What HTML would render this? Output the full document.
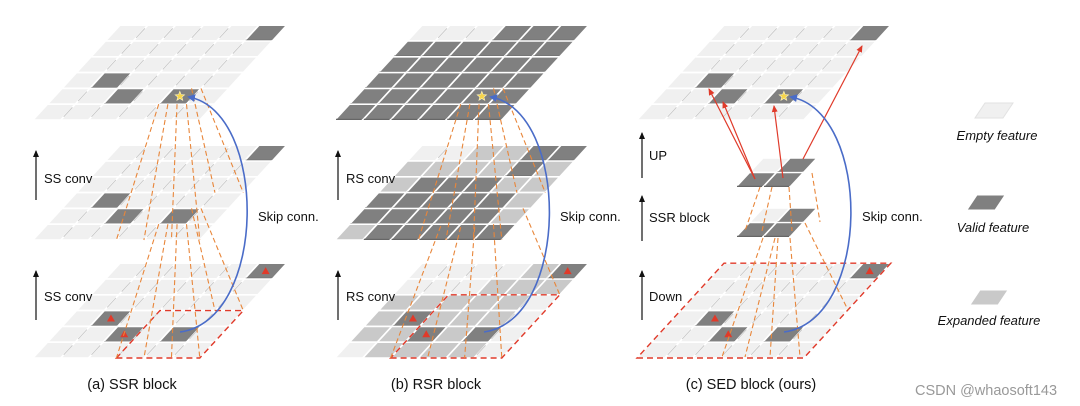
<!DOCTYPE html>
<html><head><meta charset="utf-8">
<style>
html,body{margin:0;padding:0;background:#fff;}
svg{display:block;font-family:"Liberation Sans",Arial,sans-serif;}
</style></head>
<body>
<svg id="s" width="1080" height="406" viewBox="0 0 1080 406" xmlns="http://www.w3.org/2000/svg">
<defs>
<marker id="ab" markerWidth="8" markerHeight="8" refX="6" refY="4" orient="auto" markerUnits="userSpaceOnUse"><path d="M0,0 L8,4 L0,8 z" fill="#4a6cc8"/></marker>
<marker id="ar" markerWidth="8" markerHeight="8" refX="6" refY="4" orient="auto" markerUnits="userSpaceOnUse"><path d="M0,1 L7,4 L0,7 z" fill="#e03a2a"/></marker>
<marker id="ak" markerWidth="8" markerHeight="8" refX="6" refY="4" orient="auto" markerUnits="userSpaceOnUse"><path d="M0,1 L7,4 L0,7 z" fill="#111"/></marker>
</defs>
<g id="layers"></g>
<g id="over"></g>
<g font-size="13" fill="#111">
<text x="44" y="183">SS conv</text>
<text x="44" y="301">SS conv</text>
<text x="258" y="221">Skip conn.</text>
<text x="346" y="183">RS conv</text>
<text x="346" y="301">RS conv</text>
<text x="560" y="221">Skip conn.</text>
<text x="649" y="160">UP</text>
<text x="649" y="222">SSR block</text>
<text x="649" y="301">Down</text>
<text x="862" y="221">Skip conn.</text>
</g>
<g font-size="13" font-style="italic" fill="#111" text-anchor="middle">
<text x="997" y="140">Empty feature</text>
<text x="993" y="232">Valid feature</text>
<text x="989" y="325">Expanded feature</text>
</g>
<g font-size="14.5" fill="#111" text-anchor="middle">
<text x="132" y="389">(a) SSR block</text>
<text x="436" y="389">(b) RSR block</text>
<text x="751" y="389">(c) SED block (ours)</text>
</g>
<text x="986" y="395" font-size="14.5" fill="#999" text-anchor="middle">CSDN @whaosoft143</text>
<g stroke="#111" stroke-width="1.2" marker-end="url(#ak)">
<line x1="36" y1="200" x2="36" y2="151"/>
<line x1="36" y1="320" x2="36" y2="271"/>
<line x1="338" y1="200" x2="338" y2="151"/>
<line x1="338" y1="320" x2="338" y2="271"/>
<line x1="642" y1="178" x2="642" y2="133"/>
<line x1="642" y1="241" x2="642" y2="196"/>
<line x1="642" y1="320" x2="642" y2="271"/>
</g>
</svg>
<script>
var NS="http://www.w3.org/2000/svg";
var L=document.getElementById("layers"),O=document.getElementById("over");
var W=27.8,H=15.8,S=14.5;
var COL={E:"#f0f0f0",V:"#808080",X:"#c9c9c9"};
function el(tag,attrs,parent){var e=document.createElementNS(NS,tag);for(var k in attrs)e.setAttribute(k,attrs[k]);(parent||L).appendChild(e);return e;}
function pt(X,Y,c,r,w,h,s){return [X+c*w+r*s,Y-r*h];}
function cellPoly(X,Y,c,r,w,h,s){var a=pt(X,Y,c,r,w,h,s);return [a,[a[0]+w,a[1]],[a[0]+w+s,a[1]-h],[a[0]+s,a[1]-h]];}
function ps(p){return p.map(function(q){return q[0].toFixed(1)+","+q[1].toFixed(1)}).join(" ");}
function cell(X,Y,c,r,t,w,h,s){w=w||W;h=h||H;s=s||S;var p=cellPoly(X,Y,c,r,w,h,s);
  el("polygon",{points:ps(p),fill:COL[t],stroke:"#fff","stroke-width":1.6});
  if(t==="V"){el("line",{x1:p[0][0]+1,y1:p[0][1]-0.6,x2:p[1][0]-1,y2:p[1][1]-0.6,stroke:"#666","stroke-width":1.2});}
  if(t==="E"&&c>0){var a=p[0],b=p[3];el("line",{x1:a[0]+(b[0]-a[0])*0.2,y1:a[1]+(b[1]-a[1])*0.2,x2:a[0]+(b[0]-a[0])*0.8,y2:a[1]+(b[1]-a[1])*0.8,stroke:"#cacaca","stroke-width":1});}
}
function grid(X,Y,map){for(var r=5;r>=0;r--)for(var c=0;c<6;c++){cell(X,Y,c,r,map[r][c]);}}
function grid2(X,Y,cells){for(var r=5;r>=0;r--)for(var c=0;c<6;c++){var t="E";cells.forEach(function(q){if(q[0]==c&&q[1]==r)t="V";});cell(X,Y,c,r,t);}}
function center(X,Y,c,r,w,h,s){w=w||W;h=h||H;s=s||S;var a=pt(X,Y,c,r,w,h,s);return [a[0]+w/2+s/2,a[1]-h/2];}
function tri(p){el("polygon",{points:(p[0]-4)+","+(p[1]+3)+" "+(p[0]+4)+","+(p[1]+3)+" "+p[0]+","+(p[1]-4),fill:"#e03a2a"},O);}
function star(p){var s="",R=5,r=2.2;for(var i=0;i<10;i++){var a=-Math.PI/2+i*Math.PI/5,rr=i%2?r:R;s+=(p[0]+rr*Math.cos(a)).toFixed(1)+","+(p[1]+rr*Math.sin(a)).toFixed(1)+" ";}
  el("polygon",{points:s,fill:"#f7d54a",stroke:"#fff6c0","stroke-width":0.6},O);}
function odash(a,b){el("line",{x1:a[0],y1:a[1],x2:b[0],y2:b[1],stroke:"#e8863a","stroke-width":1.1,"stroke-dasharray":"5,3"},O);}
function rbox(X,Y,c0,r0,nc,nr){var p=[pt(X,Y,c0,r0,W,H,S),pt(X,Y,c0+nc,r0,W,H,S),pt(X,Y,c0+nc,r0+nr,W,H,S),pt(X,Y,c0,r0+nr,W,H,S)];
  el("polygon",{points:ps(p),fill:"none",stroke:"#e03a2a","stroke-width":1.4,"stroke-dasharray":"6,4"},O);return p;}
function pyr(cellX,cellY,c,r,regX,regY,c0,r0,n){
  var q=cellPoly(cellX,cellY,c,r,W,H,S);
  var R=[pt(regX,regY,c0,r0,W,H,S),pt(regX,regY,c0+n,r0,W,H,S),pt(regX,regY,c0+n,r0+n,W,H,S),pt(regX,regY,c0,r0+n,W,H,S)];
  odash(q[0],R[0]);odash(q[1],R[1]);odash(q[2],R[2]);
  odash([q[0][0]+W*0.33,q[0][1]],[R[0][0]+(R[1][0]-R[0][0])*0.33,R[0][1]]);
  odash([q[0][0]+W*0.66,q[0][1]],[R[0][0]+(R[1][0]-R[0][0])*0.66,R[0][1]]);
  odash([q[3][0]+W*0.66,q[3][1]],[R[3][0]+(R[2][0]-R[3][0])*0.66,R[3][1]]);
}
var A=[[5,5],[1,2],[2,1],[4,1]];
grid2(33,120,A);grid2(33,240,A);grid2(33,358,A);
tri(center(33,358,5,5));tri(center(33,358,1,2));tri(center(33,358,2,1));
star(center(33,120,4,1));
rbox(33,358,3,0,3,3);
pyr(33,120,4,1,33,240,3,0,3);
pyr(33,240,4,1,33,358,3,0,3);
var bTop=["VVVVVV","VVVVVV","VVVVVV","VVVVVV","VVVVVV","EEEVVV"];
var bMid=["XVVVVV","VVVVVX","VVVVVX","XVVVXX","XXXXVX","EEXXVV"];
var bBot=["EXXXXE","XXVXVE","XVXXXE","XXXXXE","EEEXXX","EEEEXV"];
grid(335,120,bTop);grid(335,240,bMid);grid(335,358,bBot);
tri(center(335,358,5,5));tri(center(335,358,1,2));tri(center(335,358,2,1));
star(center(335,120,4,1));
rbox(335,358,2,0,4,4);
pyr(335,120,4,1,335,240,3,0,3);
(function(){var q=cellPoly(335,240,4,1,W,H,S);
 var R=[pt(335,358,2,0,W,H,S),pt(335,358,6,0,W,H,S),pt(335,358,6,4,W,H,S)];
 odash([q[0][0]-20,q[0][1]+2],R[0]);odash([q[1][0]+5,q[1][1]],R[1]);odash([q[2][0]+20,q[2][1]],R[2]);
 odash([q[0][0],q[0][1]+3],[R[0][0]+37,358]);odash([q[0][0]+14,q[0][1]+3],[R[0][0]+74,358]);
})();
grid2(637,120,A);grid2(637,358,A);
tri(center(637,358,5,5));tri(center(637,358,1,2));tri(center(637,358,2,1));
star(center(637,120,4,1));
el("polygon",{points:ps([[637,358],[637+6*W,358],[637+6*W+6*S,358-6*H],[637+6*S,358-6*H]]),fill:"none",stroke:"#e03a2a","stroke-width":1.4,"stroke-dasharray":"6,4"},O);
[[736,187],[736,237]].forEach(function(o){
  var w=27,h=14.5,s=13.5;
  cell(o[0],o[1],0,1,"E",w,h,s);cell(o[0],o[1],1,1,"V",w,h,s);
  cell(o[0],o[1],0,0,"V",w,h,s);cell(o[0],o[1],1,0,"V",w,h,s);
});
odash([760,187],[745,231]);odash([772,187],[762,231]);odash([789,187],[792,231]);odash([812,173],[820,222]);
odash([763,238],[722,357]);odash([775,238],[745,357]);odash([790,238],[800,357]);odash([805,223],[848,310]);odash([778,238],[770,357]);
function rarrow(a,b){el("line",{x1:a[0],y1:a[1],x2:b[0],y2:b[1],stroke:"#e03a2a","stroke-width":1.2,"marker-end":"url(#ar)"},O);}
rarrow([755,179],[709,89]);rarrow([755,179],[723,102]);rarrow([783,178],[774,106]);rarrow([803,159],[862,46]);
function blue(d){el("path",{d:d,fill:"none",stroke:"#4a6cc8","stroke-width":1.6,"marker-end":"url(#ab)"},O);}
blue("M180,332 C268,320 268,112 189,97");
blue("M484,332 C570,320 570,112 491,97");
blue("M784,332 C872,320 872,112 791,97");
function lcell(x,y,t){var w=28,h=15,s=10;el("polygon",{points:ps([[x,y],[x+w,y],[x+w+s,y-h],[x+s,y-h]]),fill:COL[t],stroke:t==="E"?"#e2e2e2":"#fff","stroke-width":1},O);}
lcell(975,118,"E");lcell(967,210,"V");lcell(970,305,"X");
</script>
</body></html>
